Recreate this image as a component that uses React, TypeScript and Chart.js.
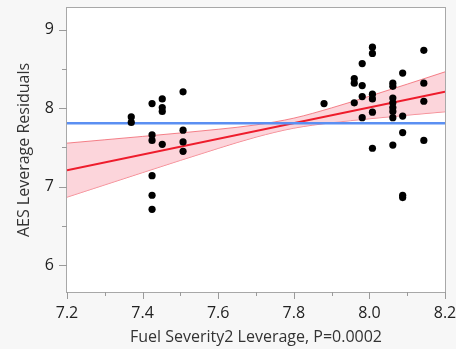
import React, { useEffect, useRef } from 'react';
import { Chart, registerables } from 'chart.js';

Chart.register(...registerables);

const xMin = 7.2;
const xMax = 8.2;
const yMin = 5.655;
const yMax = 9.28;
const xMajorTicks = [7.2, 7.4, 7.6, 7.8, 8.0, 8.2];
const xMinorTicks = [7.3, 7.5, 7.7, 7.9, 8.1];
const yMajorTicks = [6, 7, 8, 9];
const yMinorTicks = [6.5, 7.5, 8.5];

const xTitle = 'Fuel Severity2 Leverage, P=0.0002';
const yTitle = 'AES Leverage Residuals';

const pointX = [
  7.37, 7.37,
  7.425, 7.425, 7.425, 7.425, 7.425, 7.425,
  7.452, 7.452, 7.452, 7.452,
  7.507, 7.507, 7.507, 7.507,
  7.88,
  7.96, 7.96, 7.96,
  7.981, 7.981, 7.981, 7.981,
  8.008, 8.008, 8.008, 8.008, 8.008, 8.008,
  8.062, 8.062, 8.062, 8.062, 8.062, 8.062, 8.062, 8.062,
  8.088, 8.088, 8.088, 8.088, 8.088,
  8.144, 8.144, 8.144, 8.144,
];
const pointY = [
  7.89, 7.82,
  8.06, 7.66, 7.59, 7.14, 6.89, 6.71,
  8.12, 8.01, 7.96, 7.54,
  8.21, 7.72, 7.57, 7.45,
  8.06,
  8.38, 8.32, 8.07,
  8.57, 8.29, 8.15, 7.88,
  8.78, 8.70, 8.18, 8.12, 7.95, 7.49,
  8.32, 8.28, 8.13, 8.07, 8.01, 7.96, 7.88, 7.53,
  8.45, 7.90, 7.69, 6.89, 6.86,
  8.74, 8.32, 8.09, 7.59,
];

const fitX = [7.2, 8.2];
const fitY = [7.21, 8.21];
const meanX = [7.2, 8.2];
const meanY = [7.81, 7.81];

const bandX = [7.2, 7.3, 7.4, 7.5, 7.6, 7.7, 7.8, 7.9, 8.0, 8.1, 8.2];
const bandUpper = [7.555, 7.598, 7.641, 7.685, 7.732, 7.788, 7.874, 8.005, 8.154, 8.308, 8.465];
const bandLower = [6.865, 7.022, 7.179, 7.335, 7.488, 7.632, 7.746, 7.815, 7.866, 7.912, 7.955];

const FONT = "'Open Sans', 'Noto Sans', sans-serif";

const zip = (xs: number[], ys: number[]) => xs.map((x, i) => ({ x, y: ys[i] }));

const framePlugin = {
  id: 'frame',
  beforeDraw(chart: any) {
    const { ctx, chartArea: a, width, height } = chart;
    ctx.save();
    ctx.fillStyle = '#f7f7f7';
    ctx.fillRect(0, 0, width, height);
    ctx.fillStyle = '#ffffff';
    ctx.fillRect(a.left, a.top, a.right - a.left, a.bottom - a.top);
    ctx.restore();
  },
  afterDraw(chart: any) {
    const { ctx, chartArea: a } = chart;
    const xs = chart.scales.x;
    const ys = chart.scales.y;
    ctx.save();
    ctx.strokeStyle = '#a8a8a8';
    ctx.lineWidth = 1;
    ctx.strokeRect(a.left - 0.5, a.top - 0.5, a.right - a.left + 1, a.bottom - a.top + 1);
    ctx.strokeStyle = '#9a9a9a';
    ctx.beginPath();
    const xt = (v: number, len: number) => {
      const p = Math.round(xs.getPixelForValue(v)) + 0.5;
      ctx.moveTo(p, a.bottom);
      ctx.lineTo(p, a.bottom + len);
    };
    const yt = (v: number, len: number) => {
      const p = Math.round(ys.getPixelForValue(v)) + 0.5;
      ctx.moveTo(a.left, p);
      ctx.lineTo(a.left - len, p);
    };
    xMajorTicks.forEach((v) => xt(v, 7));
    xMinorTicks.forEach((v) => xt(v, 4));
    yMajorTicks.forEach((v) => yt(v, 8));
    yMinorTicks.forEach((v) => yt(v, 5));
    ctx.stroke();
    ctx.restore();
  },
};

export default function App() {
  const ref = useRef<HTMLCanvasElement | null>(null);
  useEffect(() => {
    if (!ref.current) return;
    const chart = new Chart(ref.current, {
      type: 'scatter',
      data: {
        datasets: [
          {
            type: 'scatter',
            data: zip(pointX, pointY),
            backgroundColor: '#000000',
            borderWidth: 0,
            pointRadius: 3.6,
            order: 0,
          },
          {
            type: 'line',
            data: zip(meanX, meanY),
            borderColor: '#5b8ff2',
            borderWidth: 2.5,
            pointRadius: 0,
            fill: false,
            order: 1,
          },
          {
            type: 'line',
            data: zip(fitX, fitY),
            borderColor: '#ee1c2c',
            borderWidth: 2,
            pointRadius: 0,
            fill: false,
            order: 2,
          },
          {
            type: 'line',
            data: zip(bandX, bandUpper),
            borderColor: 'rgba(240,90,100,0.75)',
            borderWidth: 1,
            pointRadius: 0,
            cubicInterpolationMode: 'monotone',
            fill: '+1',
            backgroundColor: 'rgba(250,185,195,0.6)',
            order: 3,
          },
          {
            type: 'line',
            data: zip(bandX, bandLower),
            borderColor: 'rgba(240,90,100,0.75)',
            borderWidth: 1,
            pointRadius: 0,
            cubicInterpolationMode: 'monotone',
            fill: false,
            order: 4,
          },
        ],
      } as any,
      options: {
        animation: false,
        responsive: false,
        maintainAspectRatio: false,
        layout: { padding: { top: 8, right: 11, left: 0, bottom: 0 } },
        plugins: { legend: { display: false }, tooltip: { enabled: false } },
        scales: {
          x: {
            type: 'linear',
            min: xMin,
            max: xMax,
            grid: { display: false, drawTicks: false },
            border: { display: false },
            afterBuildTicks: (s: any) => {
              s.ticks = xMajorTicks.map((v) => ({ value: v }));
            },
            afterFit: (s: any) => {
              s.height = 57;
              s.paddingLeft = 0;
              s.paddingRight = 0;
            },
            ticks: {
              autoSkip: false,
              maxRotation: 0,
              padding: 12,
              color: '#222222',
              font: { family: FONT, size: 16 },
              callback: (v: any) => Number(v).toFixed(1),
            },
            title: {
              display: true,
              text: xTitle,
              color: '#333333',
              font: { family: FONT, size: 16 },
              padding: { top: 0, bottom: 2 },
            },
          },
          y: {
            type: 'linear',
            min: yMin,
            max: yMax,
            grid: { display: false, drawTicks: false },
            border: { display: false },
            afterBuildTicks: (s: any) => {
              s.ticks = yMajorTicks.map((v) => ({ value: v }));
            },
            afterFit: (s: any) => {
              s.width = 67;
              s.paddingTop = 0;
              s.paddingBottom = 0;
            },
            ticks: {
              autoSkip: false,
              padding: 13,
              color: '#222222',
              font: { family: FONT, size: 16 },
              callback: (v: any) => String(v),
            },
            title: {
              display: true,
              text: yTitle,
              color: '#333333',
              font: { family: FONT, size: 16 },
              padding: { top: 15, bottom: 0 },
            },
          },
        },
      } as any,
      plugins: [framePlugin],
    });
    return () => chart.destroy();
  }, []);
  return (
    <div style={{ position: 'fixed', left: 0, top: 0, width: 456, height: 349 }}>
      <canvas ref={ref} width={456} height={349} />
    </div>
  );
}
